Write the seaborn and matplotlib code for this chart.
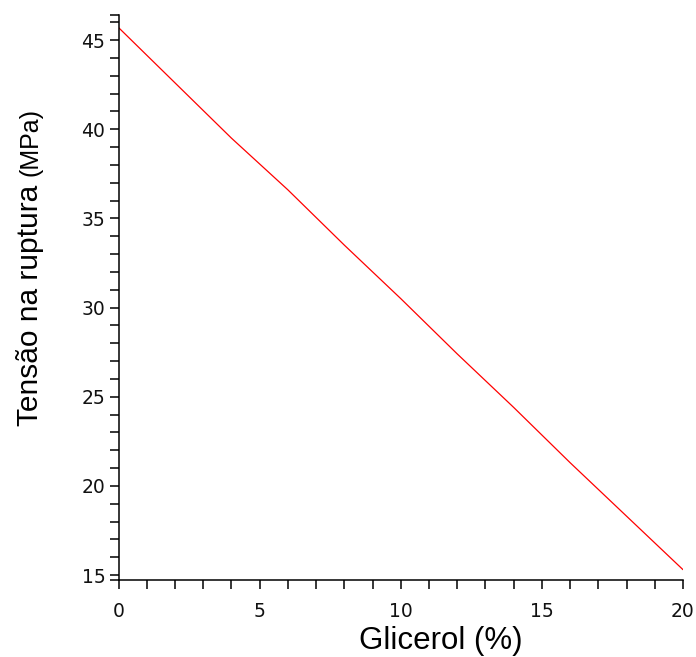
import matplotlib
matplotlib.use("Agg")
import matplotlib.pyplot as plt
import seaborn as sns
import pandas as pd
import numpy as np

# Data
glicerol = [0, 2, 4, 6, 8, 10, 12, 14, 16, 18, 20]
tensao = [45.7, 42.6, 39.5, 36.6, 33.5, 30.5, 27.4, 24.4, 21.3, 18.3, 15.3]
x_ticks = [0, 5, 10, 15, 20]
y_ticks = [15, 20, 25, 30, 35, 40, 45]

sns.set_style("ticks")
plt.rcParams['font.family'] = ['Liberation Sans', 'DejaVu Sans']
plt.rcParams['text.color'] = 'black'

df = pd.DataFrame({"Glicerol": glicerol, "Tensao": tensao})

fig = plt.figure(figsize=(6.96, 6.57), dpi=100)
ax = fig.add_axes([0.1703, 0.1172, 0.8110, 0.8604])

sns.lineplot(data=df, x="Glicerol", y="Tensao", ax=ax, color="#ff0000",
             linewidth=0.9)

ylo, yhi = 14.72, 46.42
ax.set_xlim(0, 20)
ax.set_ylim(ylo, yhi)

ax.set_xticks(x_ticks)
ax.set_xticklabels([str(v) for v in x_ticks], family='DejaVu Sans', fontsize=13.5, color="#111111")
ax.set_yticks(y_ticks)
ax.set_yticklabels([str(v) for v in y_ticks], family='DejaVu Sans', fontsize=13.5, color="#111111")
ax.set_xticks(np.arange(0, 21, 1), minor=True)
ax.set_yticks(list(np.arange(15, 47, 1)) + [ylo, yhi], minor=True)

ax.tick_params(axis='both', which='both', direction='out', length=6.5, width=1.1, color='black')
ax.tick_params(axis='x', which='major', pad=9)
ax.tick_params(axis='y', which='major', pad=3)

for s in ['top', 'right']:
    ax.spines[s].set_visible(False)
for s in ['left', 'bottom']:
    ax.spines[s].set_linewidth(1.1)
    ax.spines[s].set_color('black')

ax.set_xlabel("")
ax.set_ylabel("")

# x label (offset to the right as in the reference)
fig.text(441 / 696, 1 - 649 / 657, "Glicerol (%)", fontsize=22.5,
         ha='center', va='baseline', color='black')

# y label: large main text + smaller unit
fig.text(38 / 696, 1 - 305 / 657, "Tensão na ruptura", fontsize=21.5,
         rotation=90, ha='center', va='baseline', rotation_mode='anchor', color='black')
fig.text(38 / 696, 1 - 142 / 657, "(MPa)", fontsize=18,
         rotation=90, ha='center', va='baseline', rotation_mode='anchor', color='black')

fig.savefig("out.png", dpi=100)
